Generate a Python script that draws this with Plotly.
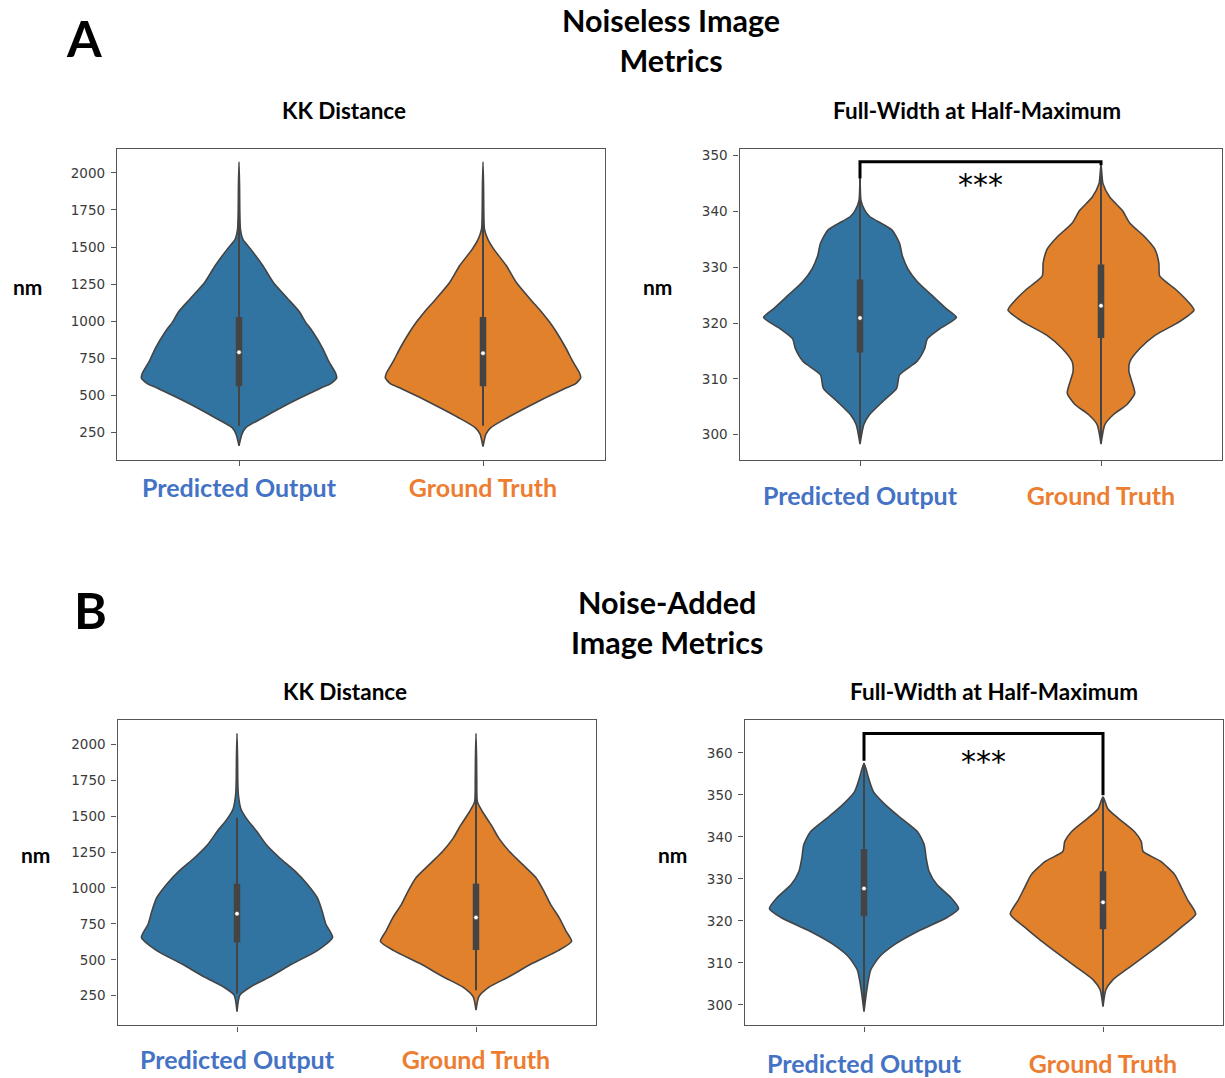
import plotly.graph_objects as go

W, H = 1225, 1078

# ------------------------------------------------------------------ data
categories = ["Predicted Output", "Ground Truth"]

# Violin outlines: value levels (nm) and relative half-width (density, 0..1)
# A - Noiseless, KK distance
kk_a_pred_y = [2075, 1900, 1750, 1619, 1552, 1486, 1374, 1263, 1152, 1063, 996, 929, 818, 729, 650, 617, 580, 550, 484, 417, 350, 283, 239, 161]
kk_a_pred_d = [0, 0.006, 0.008, 0.015, 0.04, 0.12, 0.245, 0.35, 0.50, 0.62, 0.68, 0.755, 0.857, 0.92, 0.99, 1.0, 0.94, 0.84, 0.63, 0.43, 0.245, 0.07, 0.03, 0]
kk_a_true_y = [2075, 1900, 1750, 1620, 1552, 1486, 1374, 1263, 1152, 1063, 996, 929, 818, 729, 650, 617, 580, 550, 484, 417, 350, 283, 239, 155]
kk_a_true_d = [0, 0.006, 0.008, 0.015, 0.05, 0.11, 0.24, 0.34, 0.48, 0.60, 0.68, 0.75, 0.85, 0.92, 0.99, 1.0, 0.95, 0.85, 0.64, 0.44, 0.25, 0.08, 0.03, 0]

# A - Noiseless, FWHM
fw_a_pred_y = [345.9, 342.0, 340.2, 339.1, 336.7, 334.3, 332.0, 329.6, 327.3, 324.9, 322.5, 321.0, 319.0, 317.2, 315.4, 313.1, 310.7, 308.3, 306.0, 303.6, 301.8, 298.3]
fw_a_pred_d = [0, 0.01, 0.05, 0.10, 0.33, 0.41, 0.44, 0.50, 0.60, 0.75, 0.90, 1.0, 0.83, 0.70, 0.67, 0.59, 0.41, 0.38, 0.24, 0.10, 0.04, 0]
fw_a_true_y = [348.5, 345.0, 342.6, 340.2, 337.9, 335.5, 333.2, 330.8, 328.4, 326.1, 323.7, 322.3, 320.2, 317.8, 315.4, 313.1, 311.3, 309.5, 307.4, 305.4, 303.6, 301.8, 298.3]
fw_a_true_d = [0, 0.02, 0.09, 0.22, 0.30, 0.45, 0.56, 0.60, 0.61, 0.77, 0.91, 0.965, 0.81, 0.56, 0.40, 0.30, 0.29, 0.32, 0.35, 0.27, 0.13, 0.04, 0]

# B - Noise-added, KK distance
kk_b_pred_y = [2076, 1900, 1750, 1644, 1552, 1483, 1391, 1299, 1207, 1116, 1023, 932, 840, 748, 656, 564, 472, 380, 311, 254, 139]
kk_b_pred_d = [0, 0.006, 0.008, 0.015, 0.04, 0.10, 0.21, 0.31, 0.45, 0.61, 0.74, 0.84, 0.89, 0.93, 1.0, 0.84, 0.58, 0.34, 0.14, 0.03, 0]
kk_b_true_y = [2076, 1900, 1750, 1598, 1529, 1437, 1345, 1254, 1162, 1070, 978, 886, 794, 702, 628, 564, 472, 380, 311, 243, 150]
kk_b_true_d = [0, 0.006, 0.008, 0.015, 0.07, 0.16, 0.24, 0.35, 0.49, 0.63, 0.71, 0.78, 0.87, 0.94, 1.0, 0.86, 0.58, 0.34, 0.14, 0.03, 0]

# B - Noise-added, FWHM
fw_b_pred_y = [357.5, 353.8, 350.7, 347.5, 344.4, 341.2, 338.1, 335.0, 331.8, 328.7, 325.5, 322.9, 320.8, 317.7, 314.5, 311.4, 308.3, 305.1, 302.0, 298.4]
fw_b_pred_d = [0, 0.05, 0.10, 0.23, 0.39, 0.56, 0.63, 0.65, 0.68, 0.76, 0.91, 0.99, 0.87, 0.58, 0.33, 0.16, 0.07, 0.04, 0.02, 0]
fw_b_true_y = [349.5, 346.7, 344.4, 341.2, 338.9, 336.5, 334.2, 331.0, 327.9, 324.8, 321.6, 318.5, 315.3, 312.2, 309.0, 305.9, 303.6, 299.6]
fw_b_true_d = [0, 0.05, 0.16, 0.33, 0.40, 0.42, 0.60, 0.75, 0.82, 0.89, 0.97, 0.82, 0.65, 0.47, 0.28, 0.10, 0.03, 0]

# Inner box statistics: [whisker low, Q1, median, Q3, whisker high]
kk_a_pred_box = [295, 562, 791, 1029, 1730]
kk_a_true_box = [295, 562, 785, 1029, 1730]
fw_a_pred_box = [298.6, 314.7, 320.9, 327.8, 345.9]
fw_a_true_box = [298.5, 317.3, 323.1, 330.5, 348.0]
kk_b_pred_box = [265, 621, 821, 1030, 1488]
kk_b_true_box = [288, 568, 794, 1030, 1723]
fw_b_pred_box = [299.0, 321.1, 327.7, 337.1, 357.5]
fw_b_true_box = [300.0, 318.0, 324.4, 331.8, 349.5]

# Significance brackets: [left leg bottom, bar height, right leg bottom], star label height
sig_a = [345.9, 348.9, 348.3]
sig_a_text_y = 345.7
sig_b = [358.1, 364.6, 349.9]
sig_b_text_y = 359.0
sig_label = "***"

# Axis ticks
kk_ticks = [250, 500, 750, 1000, 1250, 1500, 1750, 2000]
fw_a_ticks = [300, 310, 320, 330, 340, 350]
fw_b_ticks = [300, 310, 320, 330, 340, 350, 360]

# ------------------------------------------------------------------ style
cat_colors = ["#4472C4", "#ED7D31"]
fill_colors = ["#3274a1", "#e1812c"]
GRAY = "#444444"
SPINE = "#555555"
HALF = 0.4
LABEL_FONT = "Lato"

fig = go.Figure()


def add_violin(xa, ya, pos, yv, dv, box, fill):
    xs_r = [pos + HALF * d for d in dv]
    xs_l = [pos - HALF * d for d in dv]
    xs = xs_r + xs_l[::-1]
    ys = list(yv) + list(yv)[::-1]
    fig.add_trace(go.Scatter(
        x=xs, y=ys, xaxis=xa, yaxis=ya, mode="lines", fill="toself",
        fillcolor=fill, line=dict(color=GRAY, width=1.6, shape="spline", smoothing=0.6),
        hoverinfo="skip", showlegend=False))
    lo, q1, med, q3, hi = box
    fig.add_trace(go.Scatter(
        x=[pos, pos], y=[lo, hi], xaxis=xa, yaxis=ya, mode="lines",
        line=dict(color=GRAY, width=2), hoverinfo="skip", showlegend=False))
    fig.add_trace(go.Scatter(
        x=[pos, pos], y=[q1, q3], xaxis=xa, yaxis=ya, mode="lines",
        line=dict(color=GRAY, width=6.5), hoverinfo="skip", showlegend=False))
    fig.add_trace(go.Scatter(
        x=[pos], y=[med], xaxis=xa, yaxis=ya, mode="markers",
        marker=dict(color="white", size=4.5, line=dict(color=GRAY, width=0.6)),
        hoverinfo="skip", showlegend=False))


panels = [
    ("x", "y", [(kk_a_pred_y, kk_a_pred_d, kk_a_pred_box), (kk_a_true_y, kk_a_true_d, kk_a_true_box)]),
    ("x2", "y2", [(fw_a_pred_y, fw_a_pred_d, fw_a_pred_box), (fw_a_true_y, fw_a_true_d, fw_a_true_box)]),
    ("x3", "y3", [(kk_b_pred_y, kk_b_pred_d, kk_b_pred_box), (kk_b_true_y, kk_b_true_d, kk_b_true_box)]),
    ("x4", "y4", [(fw_b_pred_y, fw_b_pred_d, fw_b_pred_box), (fw_b_true_y, fw_b_true_d, fw_b_true_box)]),
]
for xa, ya, violins in panels:
    for i, (yv, dv, box) in enumerate(violins):
        add_violin(xa, ya, i, yv, dv, box, fill_colors[i])

# significance brackets
for xa, ya, sig in [("x2", "y2", sig_a), ("x4", "y4", sig_b)]:
    fig.add_trace(go.Scatter(
        x=[0, 0, 1, 1], y=[sig[0], sig[1], sig[1], sig[2]], xaxis=xa, yaxis=ya,
        mode="lines", line=dict(color="black", width=3), hoverinfo="skip", showlegend=False))

ticktext = ['<span style="color:%s">%s</span>' % (c, t) for c, t in zip(cat_colors, categories)]


def px_x(v):
    return v / W


def px_y(v):
    return 1 - v / H


def xaxis(domain, anchor, standoff):
    return dict(domain=domain, anchor=anchor, range=[-0.5, 1.5], tickmode="array",
                tickvals=[0, 1], ticktext=ticktext, ticks="outside", ticklen=5,
                tickwidth=1.2, tickcolor=SPINE, showline=True, mirror=True,
                linecolor=SPINE, linewidth=1.3, showgrid=False, zeroline=False,
                ticklabelstandoff=standoff,
                tickfont=dict(family=LABEL_FONT, size=25, weight="bold"), fixedrange=True)


def yaxis(domain, anchor, rng, ticks):
    return dict(domain=domain, anchor=anchor, range=rng, tickmode="array",
                tickvals=ticks, ticktext=[str(t) for t in ticks], ticks="outside",
                ticklen=5, tickwidth=1.2, tickcolor=SPINE, showline=True, mirror=True,
                linecolor=SPINE, linewidth=1.3, showgrid=False, zeroline=False,
                ticklabelstandoff=3,
                tickfont=dict(family="DejaVu Sans", size=13.5, color="#3a3a3a"), fixedrange=True)


rowA = [px_y(463), px_y(148.5)]
rowB = [px_y(1034), px_y(725)]

layout = dict(
    width=W, height=H, margin=dict(l=0, r=0, t=0, b=0),
    paper_bgcolor="white", plot_bgcolor="white", showlegend=False, hovermode=False,
    xaxis=xaxis([px_x(117), px_x(605)], "y", 1),
    yaxis=yaxis(rowA, "x", [63, 2161], kk_ticks),
    xaxis2=xaxis([px_x(739.5), px_x(1221.5)], "y2", 9),
    yaxis2=yaxis(rowA, "x2", [295.4, 351.2], fw_a_ticks),
    xaxis3=xaxis([px_x(117.5), px_x(595.5)], "y3", 7),
    yaxis3=yaxis(rowB, "x3", [43, 2172], kk_ticks),
    xaxis4=xaxis([px_x(744.5), px_x(1222.5)], "y4", 11),
    yaxis4=yaxis(rowB, "x4", [295.1, 367.9], fw_b_ticks),
)

annotations = []


def paper_text(text, x, y, size, bold=True, family=LABEL_FONT):
    annotations.append(dict(
        text=text, xref="paper", yref="paper", x=px_x(x), y=px_y(y),
        xanchor="center", yanchor="middle", showarrow=False,
        font=dict(family=family, size=size, color="black", weight="bold" if bold else "normal")))


paper_text("A", 84, 36, 50)
paper_text("B", 90, 614, 50)
paper_text("Noiseless Image<br>Metrics", 671, 38, 30.5)
paper_text("Noise-Added<br>Image Metrics", 667, 626, 30.5)
paper_text("KK Distance", 344, 110, 22.5)
paper_text("Full-Width at Half-Maximum", 977, 110, 22.5)
paper_text("KK Distance", 345, 697, 22.5)
paper_text("Full-Width at Half-Maximum", 994, 697, 22.5)
for nx, ny in [(27, 287), (657, 287), (35, 861), (672, 861)]:
    paper_text("nm", nx, ny, 21)

for xa, ya, ty in [("x2", "y2", sig_a_text_y), ("x4", "y4", sig_b_text_y)]:
    annotations.append(dict(
        text=sig_label, xref=xa, yref=ya, x=0.5, y=ty, xanchor="center",
        yanchor="middle", yshift=-5, showarrow=False,
        font=dict(family="DejaVu Sans", size=30, color="black")))

layout["annotations"] = annotations
fig.update_layout(**layout)

fig.write_html("out.html", config={"displayModeBar": False},
               post_script="document.body.style.margin='0';document.body.style.overflow='hidden';")
